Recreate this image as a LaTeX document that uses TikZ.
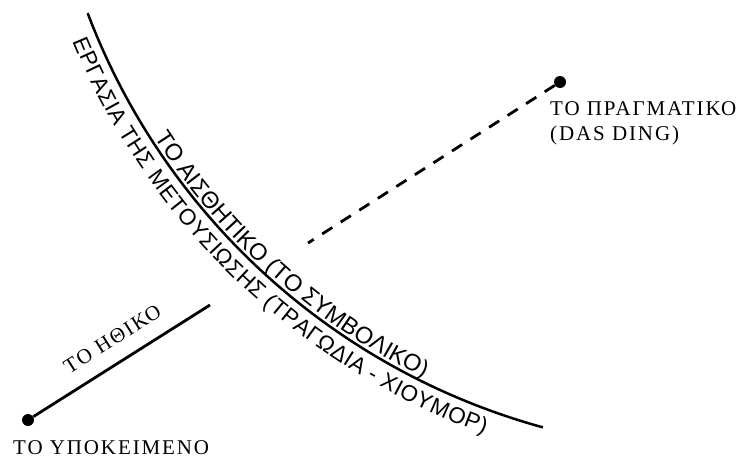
\documentclass[tikz,border=0pt]{standalone}
\usepackage{fontspec}
\setmainfont{Liberation Serif}
\newfontfamily\curvefont{Liberation Sans}
\newfontfamily\lblfont[LetterSpace=9]{Liberation Serif}
\usetikzlibrary{decorations.text}
\begin{document}
\begin{tikzpicture}[x=1pt,y=1pt,
  curveline/.style={line width=2.5pt},
  link/.style={line width=2.8pt},
  dashlink/.style={line width=2.8pt, dash pattern=on 12pt off 10pt},
  dotnode/.style={circle, fill=black, inner sep=0pt, minimum size=12pt},
  lbl/.style={font=\lblfont\fontsize{21}{25}\selectfont, inner sep=0pt},
]
\useasboundingbox (0,0) rectangle (743,-458);
\coordinate (O) at (722.6,227.4);
% main curve
\draw[curveline] (O) ++(200.75:679) arc[start angle=200.75, end angle=254.65, radius=679];
% text above (inner side)
\path[decorate, decoration={text along path, text align=center, raise=4pt,
  text={|\curvefont\fontsize{23.5}{24}\selectfont|ΤΟ ΑΙΣΘΗΤΙΚΟ (ΤΟ ΣΥΜΒΟΛΙΚΟ)}}]
  (O) ++(198.2:679) arc[start angle=198.2, end angle=258.2, radius=679];
% text below (outer side)
\path[decorate, decoration={text along path, text align=center, raise=-24pt,
  text={|\curvefont\fontsize{22.5}{23}\selectfont|ΕΡΓΑΣΙΑ ΤΗΣ ΜΕΤΟΥΣΙΩΣΗΣ (ΤΡΑΓΩΔΙΑ - ΧΙΟΥΜΟΡ)}}]
  (O) ++(196.3:679) arc[start angle=196.3, end angle=256.3, radius=679];
% points
\node[dotnode] (real) at (560,-82) {};
\node[dotnode] (subj) at (28,-420) {};
\coordinate (dashend) at (308,-243);
\coordinate (ethend) at (210,-305);
\draw[dashlink] (real) -- (dashend);
\draw[link] (subj) -- (ethend);
% labels
\node[lbl, anchor=base west] (realA) at (550,-115) {ΤΟ ΠΡΑΓΜΑΤΙΚΟ};
\node[lbl, anchor=base west] (realB) at (550,-140) {(DAS DING)};
\node[lbl, anchor=base west] (subjL) at (13,-454) {ΤΟ ΥΠΟΚΕΙΜΕΝΟ};
\node[lbl, rotate=32.3] (ethL) at (112.5,-339) {ΤΟ ΗΘΙΚΟ};
\end{tikzpicture}
\end{document}
